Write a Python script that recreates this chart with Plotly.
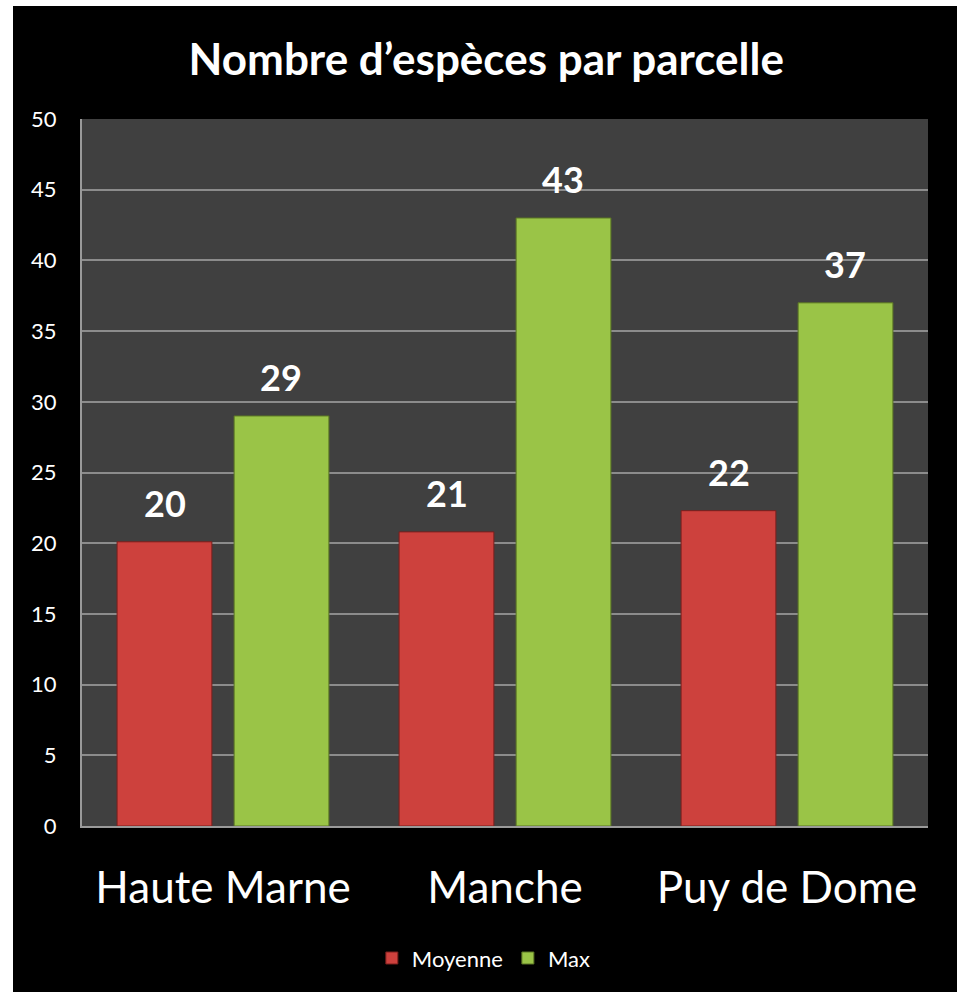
"""Nombre d'espèces par parcelle - graphique en barres groupées."""

import plotly.graph_objects as go

regions = ["Haute Marne", "Manche", "Puy de Dome"]
moyenne = [20.1, 20.8, 22.3]
maximum = [29, 43, 37]
y_ticks = [0, 5, 10, 15, 20, 25, 30, 35, 40, 45, 50]

FONT = "Lato, 'Open Sans', sans-serif"

fig = go.Figure()
fig.add_trace(
    go.Bar(
        x=regions,
        y=moyenne,
        name="Moyenne",
        marker={"color": "#cd413d", "line": {"color": "#7a1e1c", "width": 1}},
    )
)
fig.add_trace(
    go.Bar(
        x=regions,
        y=maximum,
        name="Max",
        marker={"color": "#9ac447", "line": {"color": "#5a7424", "width": 1}},
    )
)

# étiquettes de valeur au-dessus des barres
annotations = []
for values, shift in ((moyenne, -58), (maximum, 58)):
    for region, value in zip(regions, values):
        annotations.append(
            {
                "x": region,
                "y": value,
                "xref": "x",
                "yref": "y",
                "text": f"<b>{value:.0f}</b>",
                "showarrow": False,
                "xshift": shift,
                "yshift": 15,
                "yanchor": "bottom",
                "font": {"size": 36, "color": "white", "family": FONT},
            }
        )

# bordure blanche autour du cadre noir
white_strips = [
    {"x0": -0.2, "x1": (13 - 82) / 846, "y0": -0.3, "y1": 1.3},
    {"x0": (957 - 82) / 846, "x1": 1.2, "y0": -0.3, "y1": 1.3},
    {"x0": -0.2, "x1": 1.2, "y0": (826 - 6) / 707, "y1": 1.3},
]
shapes = [
    {
        "type": "rect",
        "xref": "paper",
        "yref": "paper",
        "fillcolor": "white",
        "line": {"width": 0},
        "layer": "below",
        **s,
    }
    for s in white_strips
]

fig.update_layout(
    width=961,
    height=992,
    margin={"l": 82, "r": 33, "t": 119, "b": 166},
    paper_bgcolor="black",
    plot_bgcolor="#404040",
    font={"family": FONT, "color": "white"},
    title={
        "text": "<b>Nombre d’espèces par parcelle</b>",
        "x": 0.506,
        "xanchor": "center",
        "y": 1 - 60 / 992,
        "yanchor": "middle",
        "font": {"size": 44, "color": "white", "family": FONT},
    },
    barmode="group",
    bargap=0.17,
    bargroupgap=0.19,
    legend={
        "orientation": "h",
        "x": 0.475,
        "xanchor": "center",
        "y": -0.187,
        "yanchor": "middle",
        "font": {"size": 22, "color": "white"},
        "bgcolor": "rgba(0,0,0,0)",
        "itemwidth": 30,
    },
    annotations=annotations,
    shapes=shapes,
    xaxis={
        "tickfont": {"size": 44, "color": "white"},
        "showgrid": False,
        "showline": True,
        "linecolor": "#9a9a9a",
        "linewidth": 2,
        "ticks": "",
        "ticklabelstandoff": 22,
    },
    yaxis={
        "range": [0, 50],
        "tickvals": y_ticks,
        "tickfont": {"size": 22, "color": "white"},
        "showgrid": True,
        "gridcolor": "#8c8c8c",
        "gridwidth": 1.5,
        "showline": True,
        "linecolor": "#9a9a9a",
        "linewidth": 2,
        "ticks": "",
        "zeroline": False,
        "ticklabelstandoff": 19,
    },
)

fig.write_html(
    "out.html",
    config={"displayModeBar": False},
    post_script="document.body.style.margin = '0';",
)
